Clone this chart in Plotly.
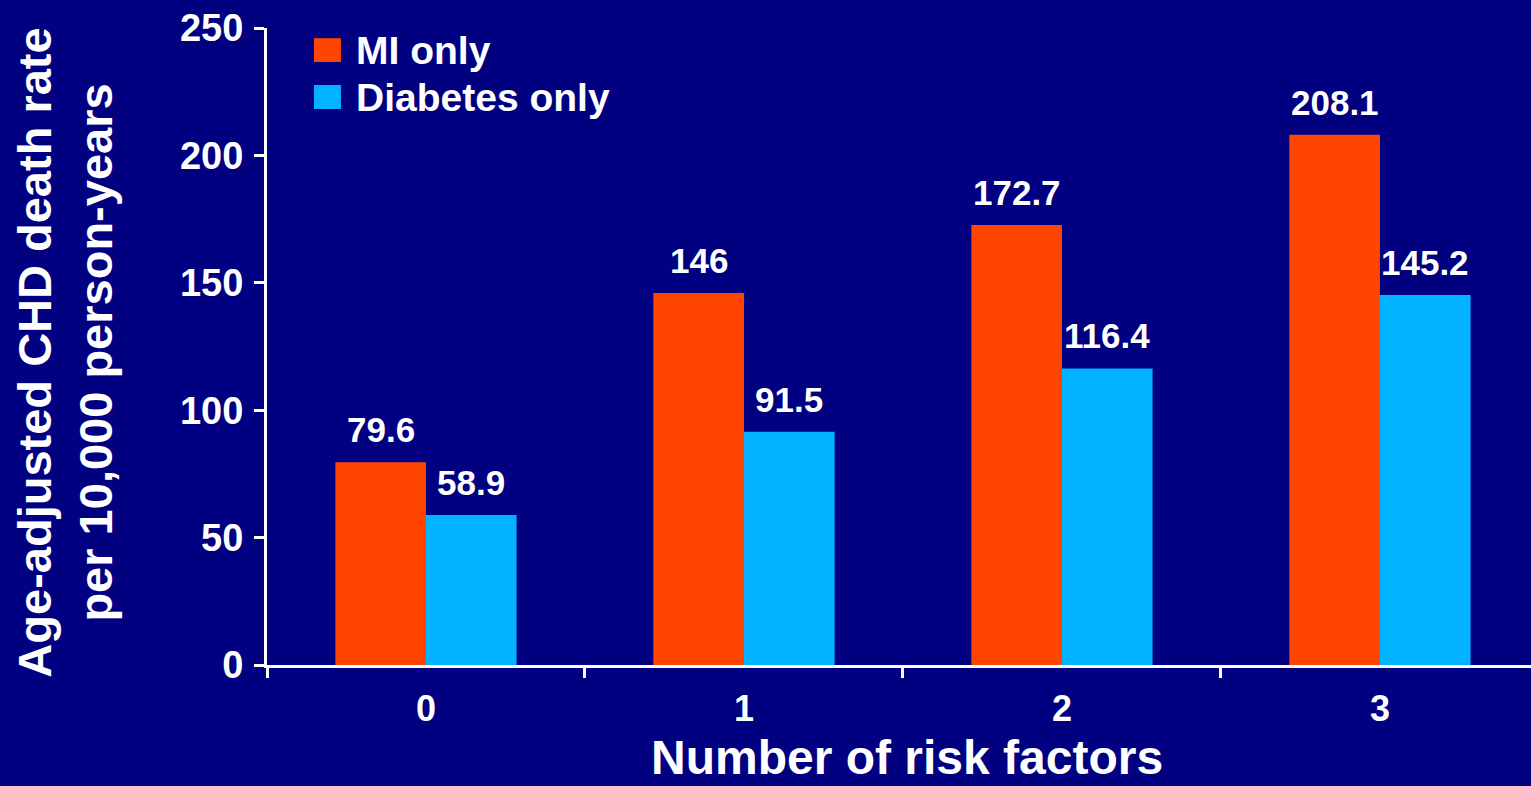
import plotly.graph_objects as go

# Age-adjusted CHD death rate per 10,000 person-years by number of risk factors
risk_factors = ["0", "1", "2", "3"]
mi_only = [79.6, 146, 172.7, 208.1]
diabetes_only = [58.9, 91.5, 116.4, 145.2]
series_names = ["MI only", "Diabetes only"]
y_ticks = [0, 50, 100, 150, 200, 250]
y_title = "Age-adjusted CHD death rate<br>per 10,000 person-years"
x_title = "Number of risk factors"

NAVY = "#000080"
ORANGE = "#FF4500"
CYAN = "#00B2FF"
WHITE = "#FFFFFF"
FONT = "Liberation Sans, Arial, sans-serif"

BAR_W = 0.285  # width of each bar in category units

fig = go.Figure()
for name, vals, col, off in [
    (series_names[0], mi_only, ORANGE, -BAR_W),
    (series_names[1], diabetes_only, CYAN, 0.0),
]:
    fig.add_trace(go.Bar(
        name=name, x=risk_factors, y=vals,
        width=BAR_W, offset=off,
        marker=dict(color=col, line=dict(width=0)),
        showlegend=False,
    ))
    # value labels above each bar
    for i, v in enumerate(vals):
        fig.add_annotation(
            x=i + off + BAR_W / 2, y=v, xref="x", yref="y",
            text=f"{v:g}", showarrow=False,
            xanchor="center", yanchor="bottom", yshift=11,
            font=dict(family=FONT, size=35, color=WHITE, weight="bold"),
        )

# legend swatches and labels
legend_rows = [
    (series_names[0], ORANGE, 0.984, 0.9466),
    (series_names[1], CYAN, 0.9105, 0.8728),
]
for name, col, ytop, ybot in legend_rows:
    fig.add_shape(type="rect", xref="paper", yref="paper",
                  x0=0.0372, x1=0.0585, y0=ybot, y1=ytop,
                  fillcolor=col, line=dict(width=0))
    fig.add_annotation(
        x=0.0688, y=(ytop + ybot) / 2, xref="paper", yref="paper",
        text=name, showarrow=False, xanchor="left", yanchor="middle",
        font=dict(family=FONT, size=39, color=WHITE, weight="bold"),
    )

# two-line y-axis title
fig.add_annotation(
    x=-0.16, y=0.49, xref="paper", yref="paper",
    text=y_title, textangle=-90, showarrow=False,
    xanchor="center", yanchor="middle",
    font=dict(family=FONT, size=47, color=WHITE, weight="bold"),
)

# x-axis title, placed low near the bottom edge
fig.add_annotation(
    x=0.506, y=0, xref="paper", yref="paper",
    text=x_title, showarrow=False,
    xanchor="center", yanchor="top", yshift=-64,
    font=dict(family=FONT, size=48, color=WHITE, weight="bold"),
)

fig.update_layout(
    width=1531, height=786,
    paper_bgcolor=NAVY, plot_bgcolor=NAVY,
    margin=dict(l=267, r=0, t=28, b=121),
    barmode="group",
    font=dict(family=FONT, color=WHITE, weight="bold"),
    xaxis=dict(
        type="category", range=[-0.5, 3.475],
        showline=True, linecolor=WHITE, linewidth=3,
        ticks="outside", tickson="boundaries", ticklen=10, tickwidth=3, tickcolor=WHITE,
        tickfont=dict(family=FONT, size=36, color=WHITE, weight="bold"),
        ticklabelstandoff=10,
        showgrid=False, zeroline=False,
    ),
    yaxis=dict(
        range=[0, 250], tickvals=y_ticks,
        showline=True, linecolor=WHITE, linewidth=3,
        ticks="outside", ticklen=10, tickwidth=3, tickcolor=WHITE,
        tickfont=dict(family=FONT, size=38, color=WHITE, weight="bold"),
        ticklabelstandoff=3,
        showgrid=False, zeroline=False,
    ),
)

fig.write_html("out.html")
